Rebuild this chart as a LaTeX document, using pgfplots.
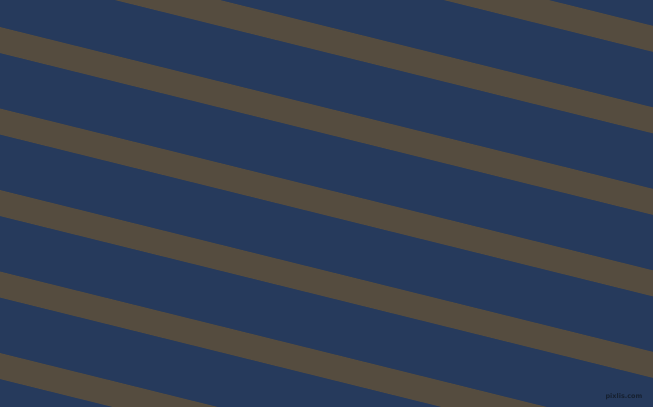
\documentclass[border=0pt]{standalone}
\usepackage{pgfplots}
\pgfplotsset{compat=1.18}
\usepackage{fontspec}
\setmainfont{DejaVu Sans}
\definecolor{navy}{RGB}{38,58,92}
\definecolor{stripe}{RGB}{85,76,63}
\definecolor{mark}{RGB}{22,32,48}
\begin{document}
\begin{tikzpicture}
\begin{axis}[
  width=653bp, height=407bp, scale only axis,
  xmin=0, xmax=653, ymin=0, ymax=407, y dir=reverse,
  hide axis, clip=true,
]
\addplot[draw=none, fill=navy] coordinates {(0,0) (653,0) (653,407) (0,407)} -- cycle;
% stripes: upper edge y = c + 0.2478 x, lower edge = upper + 26
\addplot[overlay, draw=none, fill=stripe] coordinates {(-5,-137.2) (660,27.6) (660,53.6) (-5,-111.2)} -- cycle;
\addplot[overlay, draw=none, fill=stripe] coordinates {(-5,-55.7) (660,109.1) (660,135.1) (-5,-29.7)} -- cycle;
\addplot[overlay, draw=none, fill=stripe] coordinates {(-5,25.8) (660,190.6) (660,216.6) (-5,51.8)} -- cycle;
\addplot[overlay, draw=none, fill=stripe] coordinates {(-5,107.3) (660,272.1) (660,298.1) (-5,133.3)} -- cycle;
\addplot[overlay, draw=none, fill=stripe] coordinates {(-5,188.8) (660,353.6) (660,379.6) (-5,214.8)} -- cycle;
\addplot[overlay, draw=none, fill=stripe] coordinates {(-5,270.3) (660,435.1) (660,461.1) (-5,296.3)} -- cycle;
\addplot[overlay, draw=none, fill=stripe] coordinates {(-5,351.8) (660,516.6) (660,542.6) (-5,377.8)} -- cycle;
\node[overlay, anchor=center, text=mark, font=\fontsize{6.5}{7}\selectfont\bfseries, inner sep=0pt] at (axis cs:624,397) {pixlis.com};
\end{axis}
\end{tikzpicture}
\end{document}
